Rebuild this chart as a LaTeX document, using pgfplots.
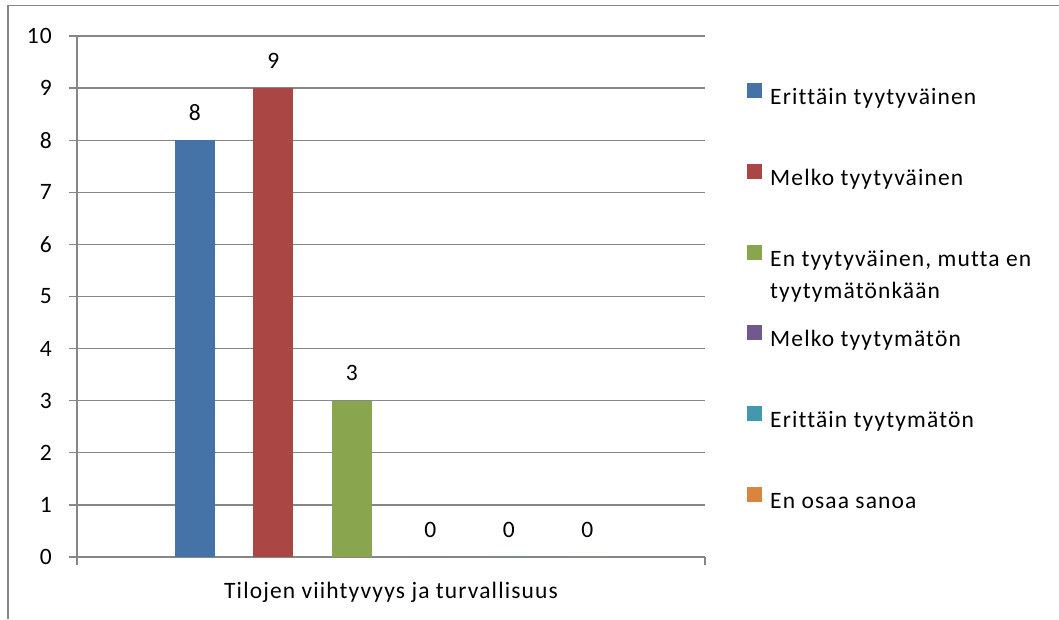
\documentclass[border=0pt]{standalone}
\usepackage{fontspec}
\setmainfont{Carlito}[LetterSpace=4.8, Ligatures=NoCommon]
\usepackage{pgfplots}
\pgfplotsset{compat=1.18}
\definecolor{c1}{HTML}{4572A7}
\definecolor{c2}{HTML}{AA4643}
\definecolor{c3}{HTML}{89A54E}
\definecolor{c4}{HTML}{71588F}
\definecolor{c5}{HTML}{4198AF}
\definecolor{c6}{HTML}{DB843D}
\definecolor{axisgray}{HTML}{868686}
\newcommand{\bigf}{\fontsize{23.5}{29}\selectfont}
\begin{document}
\begin{tikzpicture}[x=1pt,y=1pt,font=\bigf]
\useasboundingbox (0,0) rectangle (1059,619);
\draw[axisgray, line width=1.5pt] (8,0) -- (8,613.5) -- (1059,613.5);
\begin{axis}[
  at={(77pt,62pt)}, anchor=south west,
  scale only axis, width=628pt, height=521pt,
  font=\bigf,
  xmin=-0.5, xmax=7.5, ymin=0, ymax=10,
  ybar, bar width=40pt,
  axis x line*=bottom, axis y line*=left,
  axis line style={draw=axisgray, line width=1.2pt},
  ytick={0,...,10}, xtick={-0.5,7.5}, xticklabels={,},
  tick align=outside, major tick length=8pt,
  tick style={draw=axisgray, line width=1.2pt},
  ymajorgrids, grid style={draw=axisgray, line width=1.2pt},
  tick label style={font=\bigf},
  yticklabel style={inner sep=0pt, xshift=-17pt},
  /pgf/number format/assume math mode=true,
  nodes near coords,
  every node near coord/.append style={font=\bigf, inner sep=0pt, anchor=south, yshift=19.6pt, text=black},
  xlabel={Tilojen viihtyvyys ja turvallisuus},
  xlabel style={font=\bigf, at={(axis description cs:0.5,0)}, anchor=base, yshift=-41pt, inner sep=0pt},
  legend style={font=\bigf, at={(1.06688,0.9098)}, anchor=north west, draw=none, fill=none,
    inner sep=0pt, row sep=59.2pt, column sep=8pt,
    nodes={inner sep=0pt, text height=13pt, text depth=0pt}},
  legend cell align=left,
  legend image code/.code={\fill[#1] (0pt,0pt) rectangle (15pt,15pt);},
]
\addplot[ybar, bar shift=0pt, fill=c1, draw=none] coordinates {(1,8)};
\addlegendentry{Erittäin tyytyväinen}
\addplot[ybar, bar shift=0pt, fill=c2, draw=none] coordinates {(2,9)};
\addlegendentry{Melko tyytyväinen}
\addplot[ybar, bar shift=0pt, fill=c3, draw=none] coordinates {(3,3)};
\addlegendentry{\smash{\begin{tabular}[t]{@{}l@{}}En tyytyväinen, mutta en\\[3pt]tyytymätönkään\end{tabular}}}
\addplot[ybar, bar shift=0pt, fill=c4, draw=none] coordinates {(4,0)};
\addlegendentry{Melko tyytymätön}
\addplot[ybar, bar shift=0pt, fill=c5, draw=none] coordinates {(5,0)};
\addlegendentry{Erittäin tyytymätön}
\addplot[ybar, bar shift=0pt, fill=c6, draw=none] coordinates {(6,0)};
\addlegendentry{En osaa sanoa}
\end{axis}
\end{tikzpicture}
\end{document}
